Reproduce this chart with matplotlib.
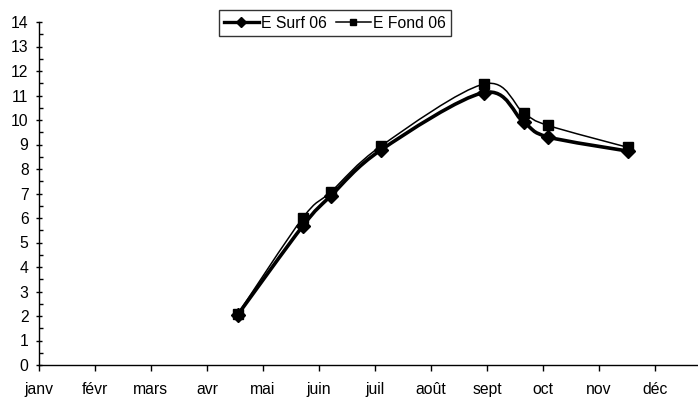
import numpy as np
import matplotlib
matplotlib.use("Agg")
import matplotlib.pyplot as plt
from matplotlib.path import Path
from matplotlib.patches import PathPatch
from matplotlib.lines import Line2D
from matplotlib.ticker import MultipleLocator

plt.rcParams['font.family'] = ['Liberation Sans', 'DejaVu Sans']

months = ["janv", "févr", "mars", "avr", "mai", "juin", "juil", "août",
          "sept", "oct", "nov", "déc"]

# sampling dates as fractional month index (0 = janv)
dates = [3.55, 4.71, 5.21, 6.11, 7.95, 8.66, 9.09, 10.52]
e_surf_06 = [2.05, 5.67, 6.9, 8.78, 11.12, 9.9, 9.31, 8.73]
e_fond_06 = [2.08, 6.0, 7.06, 8.94, 11.47, 10.28, 9.78, 8.88]

FS = 11.3


def smooth_path(ax, xs, ys):
    """Catmull-Rom style Bezier path through the points (display space)."""
    pts = ax.transData.transform(np.column_stack([xs, ys]))
    n = len(pts)
    verts = [pts[0]]
    codes = [Path.MOVETO]
    t = 1.0 / 6.0
    for i in range(n - 1):
        p0 = pts[i - 1] if i > 0 else pts[i]
        p1 = pts[i]
        p2 = pts[i + 1]
        p3 = pts[i + 2] if i + 2 < n else pts[i + 1]
        c1 = p1 + (p2 - p0) * t
        c2 = p2 - (p3 - p1) * t
        verts += [c1, c2, p2]
        codes += [Path.CURVE4] * 3
    return Path(verts, codes)


fig = plt.figure(figsize=(6.98, 3.97), dpi=100)
ax = fig.add_axes([39 / 698, 32 / 397, 659 / 698, 343 / 397])
ax.set_xlim(0, 11.77)
ax.set_ylim(0, 14)

for s in ("top", "right"):
    ax.spines[s].set_visible(False)
for s in ("left", "bottom"):
    ax.spines[s].set_linewidth(1.0)

ax.set_xticks(range(12))
ax.set_xticklabels(months)
ax.yaxis.set_major_locator(MultipleLocator(1))
ax.yaxis.set_minor_locator(MultipleLocator(0.5))
ax.tick_params(axis='y', which='major', direction='inout', length=5, width=1,
               labelsize=FS, pad=5)
ax.tick_params(axis='y', which='minor', direction='in', length=3, width=1)
ax.tick_params(axis='x', which='major', direction='out', length=4, width=1,
               labelsize=FS, pad=8)

fig.canvas.draw()

ax.add_patch(PathPatch(smooth_path(ax, dates, e_fond_06), transform=None,
                       fill=False, edgecolor='black', lw=1.1, zorder=3))
ax.add_patch(PathPatch(smooth_path(ax, dates, e_surf_06), transform=None,
                       fill=False, edgecolor='black', lw=2.6, zorder=3))
ax.plot(dates, e_fond_06, ls='none', marker='s', ms=6.8, color='black', zorder=4)
ax.plot(dates, e_surf_06, ls='none', marker='D', ms=6.8, color='black', zorder=5)

handles = [
    Line2D([], [], color='black', lw=2.4, marker='D', ms=5),
    Line2D([], [], color='black', lw=1.1, marker='s', ms=5),
]
leg = fig.legend(handles, ["E Surf 06", "E Fond 06"], ncol=2,
                 loc='center', bbox_to_anchor=(335 / 698, 1 - 23 / 397),
                 frameon=True, fancybox=False, fontsize=FS, handlelength=2.2,
                 handletextpad=0.15, columnspacing=0.6, borderpad=0.35,
                 borderaxespad=0)
leg.get_frame().set_edgecolor('black')
leg.get_frame().set_linewidth(1.0)

fig.savefig("out.png", dpi=100)
